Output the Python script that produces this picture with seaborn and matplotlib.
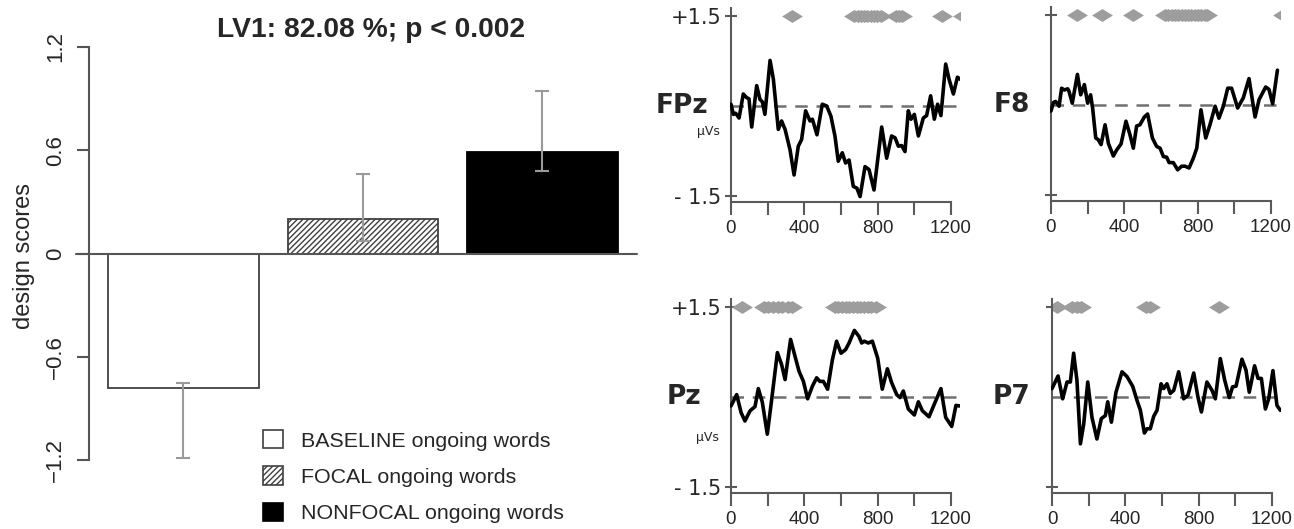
import numpy as np
import pandas as pd
import matplotlib
matplotlib.use("Agg")
import matplotlib.pyplot as plt
from matplotlib.patches import Patch
from matplotlib.ticker import FixedLocator
import seaborn as sns

# ---------------- LV1 design scores (left panel) ----------------
conditions = ["BASELINE ongoing words", "FOCAL ongoing words", "NONFOCAL ongoing words"]
design_scores = [-0.78, 0.20, 0.59]
ci_lower = [-1.19, 0.07, 0.48]
ci_upper = [-0.755, 0.46, 0.945]
score_ticks = [-1.2, -0.6, 0.0, 0.6, 1.2]
score_tick_labels = ["\u22121.2", "\u22120.6", "0", "0.6", "1.2"]
title_text = "LV1: 82.08 %; p < 0.002"

# ---------------- electrode saliences (right panels) ----------------
fpz_t = [0, 13, 25, 44, 67, 85, 98, 113, 140, 158, 171, 185, 213, 231, 258, 276, 295, 322,
         344, 367, 385, 407, 431, 444, 469, 498, 522, 545, 567, 585, 607, 625, 644, 667,
         687, 704, 731, 753, 780, 822, 849, 876, 895, 913, 931, 949, 967, 982, 1000, 1022,
         1049, 1067, 1089, 1109, 1127, 1145, 1171, 1189, 1213, 1235, 1253]
fpz_v = [0.03, -0.14, -0.12, -0.20, 0.20, 0.14, 0.12, -0.35, 0.34, 0.11, 0.07, -0.14, 0.76,
         0.45, -0.39, -0.25, -0.39, -0.73, -1.15, -0.67, -0.56, -0.08, -0.25, -0.22, -0.48,
         0.03, 0.00, -0.17, -0.50, -0.92, -0.78, -0.95, -0.90, -1.34, -1.37, -1.51, -1.01,
         -1.06, -1.40, -0.35, -0.87, -0.50, -0.53, -0.67, -0.66, -0.76, -0.08, -0.22, -0.14,
         -0.50, -0.20, -0.16, 0.17, -0.22, 0.03, -0.16, 0.70, 0.45, 0.20, 0.48, 0.44]

f8_t = [0, 13, 25, 44, 58, 73, 91, 98, 116, 144, 162, 182, 200, 216, 227, 244, 258, 273,
        295, 313, 340, 358, 382, 409, 431, 449, 467, 485, 509, 527, 553, 576, 595, 613, 631,
        644, 667, 691, 713, 731, 753, 776, 795, 818, 844, 867, 895, 916, 940, 964, 985, 1018,
        1049, 1080, 1113, 1135, 1171, 1189, 1209, 1235]
f8_v = [-0.10, 0.04, 0.06, -0.02, 0.28, 0.25, 0.27, 0.23, 0.03, 0.51, 0.17, 0.34, 0.03, 0.17,
        -0.05, -0.55, -0.58, -0.66, -0.33, -0.64, -0.85, -0.75, -0.65, -0.27, -0.50, -0.72,
        -0.35, -0.33, -0.20, -0.15, -0.55, -0.69, -0.72, -0.86, -0.87, -0.96, -0.96, -1.08,
        -1.02, -1.02, -1.05, -0.89, -0.72, -0.08, -0.55, -0.33, -0.02, -0.22, -0.02, 0.28,
        0.28, -0.05, 0.12, 0.44, -0.20, 0.09, 0.30, 0.26, 0.02, 0.58]

pz_t = [0, 31, 55, 76, 104, 131, 149, 171, 198, 222, 253, 276, 295, 325, 349, 371, 395, 418,
        444, 467, 485, 504, 527, 553, 576, 600, 625, 644, 673, 698, 713, 727, 749, 771, 800,
        825, 853, 876, 904, 922, 940, 967, 1000, 1022, 1044, 1080, 1113, 1145, 1171, 1204,
        1227, 1249]
pz_v = [-0.15, 0.04, -0.26, -0.40, -0.23, -0.16, 0.14, -0.09, -0.62, -0.04, 0.74, 0.54, 0.29,
        0.96, 0.68, 0.43, 0.26, -0.03, 0.18, 0.32, 0.26, 0.26, 0.13, 0.62, 0.93, 0.73, 0.79,
        0.90, 1.11, 1.01, 0.90, 0.93, 0.90, 0.93, 0.65, 0.13, 0.47, 0.24, 0.04, -0.01, 0.10,
        -0.20, -0.30, -0.08, -0.23, -0.33, -0.09, 0.14, -0.34, -0.49, -0.14, -0.15]

p7_t = [0, 33, 58, 82, 100, 118, 136, 155, 173, 195, 218, 245, 269, 291, 304, 324, 349, 382,
        409, 440, 464, 482, 504, 518, 536, 555, 573, 595, 609, 627, 645, 664, 691, 718, 742,
        773, 796, 815, 845, 873, 891, 918, 942, 967, 985, 1004, 1036, 1058, 1076, 1105, 1124,
        1142, 1164, 1182, 1205, 1227, 1245]
p7_v = [0.14, 0.35, -0.03, 0.25, 0.25, 0.73, 0.28, -0.78, -0.45, 0.25, -0.34, -0.70, -0.36,
        -0.31, -0.08, -0.42, 0.08, 0.42, 0.34, 0.18, -0.06, -0.22, -0.60, -0.53, -0.53, -0.32,
        -0.22, 0.22, 0.14, 0.22, 0.06, 0.11, 0.42, -0.03, 0.03, 0.40, 0.00, -0.25, 0.25, 0.11,
        -0.03, 0.64, 0.28, -0.01, 0.17, 0.18, 0.63, 0.45, 0.08, 0.52, 0.31, 0.31, -0.20,
        -0.03, 0.44, -0.14, -0.22]

# time points with reliable saliences (bootstrap ratio markers)
fpz_sig = [333, 672, 690, 708, 726, 744, 762, 780, 798, 816, 900, 916, 932, 1151, 1265]
f8_sig = [140, 277, 447, 622, 640, 658, 676, 694, 712, 730, 748, 766, 784, 802, 820, 838,
          851, 1265]
pz_sig = [60, 180, 200, 230, 255, 280, 310, 335, 565, 585, 605, 625, 645, 665, 685, 705,
          725, 745, 765, 790]
p7_sig = [27, 110, 135, 160, 510, 535, 912]

time_ticks = [0, 400, 800, 1200]
time_minor = [200, 600, 1000]

# ---------------- figure ----------------
sns.set_style("ticks")
plt.rcParams["font.family"] = ["Liberation Sans", "DejaVu Sans"]
plt.rcParams["hatch.linewidth"] = 1.0

W, H = 1294, 529
fig = plt.figure(figsize=(W / 100, H / 100), dpi=100)


def px_axes(left, top, right, bottom):
    return fig.add_axes([left / W, 1 - bottom / H, (right - left) / W, (bottom - top) / H])


axis_grey = "#555555"

# ----- bar chart -----
ax = px_axes(88.5, 47, 637, 460)
bars_df = pd.DataFrame({"condition": conditions, "score": design_scores})
sns.barplot(data=bars_df, x="condition", y="score", order=conditions, errorbar=None,
            width=0.84, ax=ax, zorder=2)
fills = ["white", "white", "black"]
for patch, fc in zip(ax.patches, fills):
    patch.set_facecolor(fc)
    patch.set_edgecolor("#404040" if fc == "white" else "black")
    patch.set_linewidth(1.3)
ax.patches[1].set_hatch("//////")

pos = np.arange(len(conditions))
scores = np.array(design_scores)
yerr = [scores - np.array(ci_lower), np.array(ci_upper) - scores]
ax.errorbar(pos, scores, yerr=yerr, fmt="none", ecolor="#9a9a9a", elinewidth=1.5,
            capsize=5, capthick=1.5, zorder=5)
ax.axhline(0, xmin=-0.023, xmax=1.0, color=axis_grey, lw=1.5, clip_on=False, zorder=3)

ax.set_xlim(-0.529, 2.527)
ax.set_ylim(-1.2, 1.2)
ax.set_yticks(score_ticks)
ax.set_yticklabels(score_tick_labels, rotation=90, va="center", fontsize=16)
ax.tick_params(axis="y", length=9, width=1.5, color=axis_grey, pad=7)
ax.set_xticks([])
ax.set_xlabel("")
ax.set_ylabel("design scores", fontsize=17)
ax.yaxis.set_label_coords(-0.098, 0.493)
for s in ["top", "right", "bottom"]:
    ax.spines[s].set_visible(False)
ax.spines["left"].set_color(axis_grey)
ax.spines["left"].set_linewidth(1.5)
ax.set_facecolor("none")
fig.text(371 / W, 1 - 30 / H, title_text, ha="center", va="center", fontsize=20.3,
         fontweight="bold")

handles = [Patch(facecolor="white", edgecolor="#404040", lw=1.2),
           Patch(facecolor="white", edgecolor="#404040", hatch="//////", lw=1.2),
           Patch(facecolor="black", edgecolor="black", lw=1.2)]
fig.legend(handles, conditions, loc="upper left", bbox_to_anchor=(263 / W, 1 - 430 / H),
           frameon=False, fontsize=15.4, handlelength=0.94, handleheight=0.94,
           handletextpad=0.85, labelspacing=0.74, borderaxespad=0, borderpad=0)

# ----- electrode panels -----
PPM = 220 / 1200.0
PPU = 60.0
XMIN, XMAX = -8, 1250
YMIN, YMAX = -1.6, 1.64
erp_grey = "#5a5a5a"

panels = [
    ("FPz", fpz_t, fpz_v, fpz_sig, 731, 106, True, -125, -60, -0.43),
    ("F8", f8_t, f8_v, f8_sig, 1051, 105, False, -115, None, None),
    ("Pz", pz_t, pz_v, pz_sig, 731, 397, True, -160, -68, -0.68),
    ("P7", p7_t, p7_v, p7_sig, 1052, 397, False, -120, None, None),
]

diamond = [(-1, 0), (0, 0.62), (1, 0), (0, -0.62), (-1, 0)]

for name, tt, vv, sig, x0, y0, labelled, name_t, unit_t, unit_v in panels:
    pax = px_axes(x0 + XMIN * PPM, y0 - YMAX * PPU, x0 + XMAX * PPM, y0 - YMIN * PPU)
    pax.set_facecolor("none")
    pax.axhline(0, xmin=(0 - XMIN) / (XMAX - XMIN), xmax=1, color="#707070", lw=1.8,
                dashes=(5, 3.5), zorder=1)
    sns.lineplot(x=tt, y=vv, ax=pax, color="black", lw=2.6, zorder=3, estimator=None,
                 sort=False)
    pax.plot(sig, [1.5] * len(sig), linestyle="none", marker=diamond, ms=15,
             color="#9d9d9d", mec="none", zorder=2)
    pax.set_xlim(XMIN, XMAX)
    pax.set_ylim(YMIN, YMAX)
    for s in ["top", "right"]:
        pax.spines[s].set_visible(False)
    pax.spines["left"].set_position(("data", 0))
    pax.spines["bottom"].set_bounds(0, 1200)
    for s in ["left", "bottom"]:
        pax.spines[s].set_color(erp_grey)
        pax.spines[s].set_linewidth(1.5)
    pax.xaxis.set_major_locator(FixedLocator(time_ticks))
    pax.xaxis.set_minor_locator(FixedLocator(time_minor))
    pax.set_xticklabels([str(t) for t in time_ticks], fontsize=13.5)
    pax.tick_params(axis="x", which="both", length=9, width=1.5, color=erp_grey, pad=4)
    pax.set_yticks([-1.5, 1.5])
    if labelled:
        pax.set_yticklabels(["- 1.5", "+1.5"], fontsize=15, family="DejaVu Sans")
    else:
        pax.set_yticklabels([])
    pax.tick_params(axis="y", direction="inout", length=8, width=1.5, color=erp_grey,
                    pad=3)
    pax.set_xlabel("")
    pax.set_ylabel("")
    pax.text(name_t, 0, name, ha="right", va="center", fontsize=19, fontweight="bold",
             family="DejaVu Sans", clip_on=False)
    if unit_t is not None:
        pax.text(unit_t, unit_v, "\u03bcVs", ha="right", va="center", fontsize=9,
                 family="DejaVu Sans", clip_on=False)

fig.savefig("out.png", dpi=100)
